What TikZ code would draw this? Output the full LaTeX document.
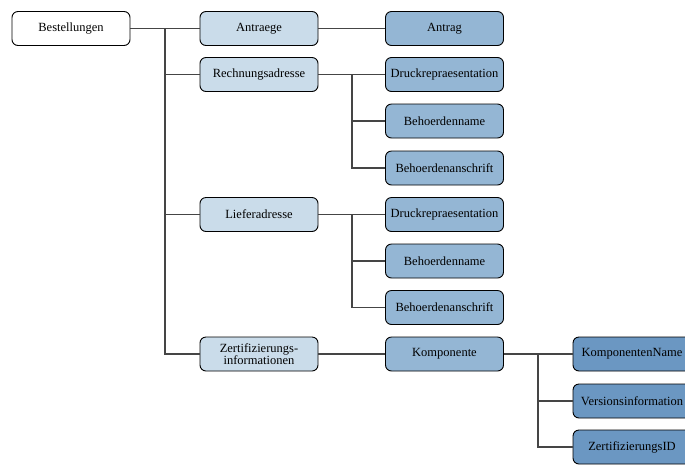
\documentclass[tikz,border=0pt]{standalone}
\usepackage{fontspec}
\setmainfont{Liberation Serif}
\begin{document}
\begin{tikzpicture}[x=1pt,y=-1pt,
  box/.style={draw=black,line width=0.9pt,rounded corners=6pt,minimum width=118pt,minimum height=34pt,inner sep=0.5pt,align=center,font=\fontsize{12.5}{12.5}\selectfont},
  lone/.style={box,fill=white},
  lvla/.style={box,fill=lvlacol},
  lvlb/.style={box,fill=lvlbcol},
  lvlc/.style={box,fill=lvlccol},
  conn/.style={draw=conncol,line width=1.4pt}]
\definecolor{lvlacol}{HTML}{CADCEA}
\definecolor{lvlbcol}{HTML}{94B6D4}
\definecolor{lvlccol}{HTML}{6B97C2}
\definecolor{conncol}{HTML}{454545}
\useasboundingbox[fill=white] (0,0) rectangle (685,467);
\begin{scope}
\clip (0,0) rectangle (685,467);
\node[lone] (B) at (71,28.5) {Bestellungen};
\node[lvla] (A1) at (259,28.5) {Antraege};
\node[lvla] (A2) at (259,74.5) {Rechnungsadresse};
\node[lvla] (A3) at (259,214.5) {Lieferadresse};
\node[lvla] (A4) at (259,354) {Zertifizierungs-\\informationen};
\node[lvlb] (B1) at (444.5,28.5) {Antrag};
\node[lvlb] (B2) at (444.5,74.5) {Druckrepraesentation};
\node[lvlb] (B3) at (444.5,121) {Behoerdenname};
\node[lvlb] (B4) at (444.5,168) {Behoerdenanschrift};
\node[lvlb] (B5) at (444.5,214.5) {Druckrepraesentation};
\node[lvlb] (B6) at (444.5,261) {Behoerdenname};
\node[lvlb] (B7) at (444.5,307.5) {Behoerdenanschrift};
\node[lvlb] (B8) at (444.5,354) {Komponente};
\node[lvlc] (C1) at (632,354) {KomponentenName};
\node[lvlc] (C2) at (632,401) {Versionsinformation};
\node[lvlc] (C3) at (632,447) {ZertifizierungsID};
\end{scope}
\coordinate (s1) at (165,28.5);
\coordinate (s2) at (352,74.5);
\coordinate (s3) at (352,214.5);
\coordinate (s4) at (538,354);
\draw[conn] (B.east) -- (A1.west);
\draw[conn] (s1) |- (A2.west);
\draw[conn] (s1) |- (A3.west);
\draw[conn] (s1) |- (A4.west);
\draw[conn] (A1.east) -- (B1.west);
\draw[conn] (A2.east) -- (B2.west);
\draw[conn] (s2) |- (B3.west);
\draw[conn] (s2) |- (B4.west);
\draw[conn] (A3.east) -- (B5.west);
\draw[conn] (s3) |- (B6.west);
\draw[conn] (s3) |- (B7.west);
\draw[conn] (A4.east) -- (B8.west);
\draw[conn] (B8.east) -- (C1.west);
\draw[conn] (s4) |- (C2.west);
\draw[conn] (s4) |- (C3.west);
\end{tikzpicture}
\end{document}
